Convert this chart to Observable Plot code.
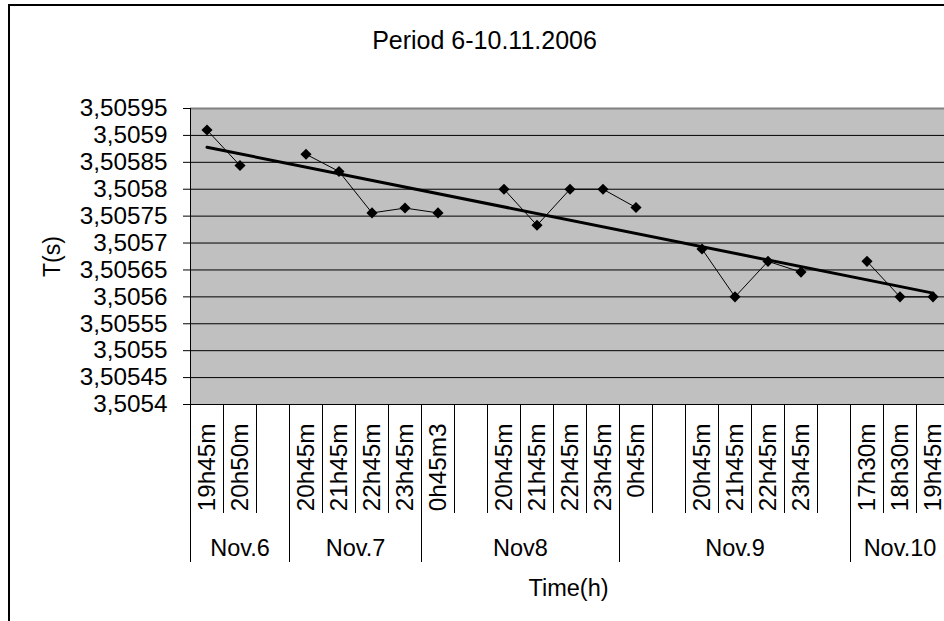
<!DOCTYPE html>
<html>
<head>
<meta charset="utf-8">
<script src="https://cdn.jsdelivr.net/npm/d3@7"></script>
<script src="https://cdn.jsdelivr.net/npm/@observablehq/plot@0.6"></script>
<style>
  html, body { margin: 0; padding: 0; background: #fff; overflow: hidden; }
  #wrap { position: relative; width: 944px; height: 621px; overflow: hidden; }
  #border { position: absolute; left: 8px; top: 4px; width: 1200px; height: 1200px;
            border-left: 2px solid #000; border-top: 2px solid #000; pointer-events: none; }
</style>
</head>
<body>
<div id="wrap"><div id="border"></div></div>
<script>
// ---- data ----
const days = ["Nov.6","Nov.6","Nov.6",
              "Nov.7","Nov.7","Nov.7","Nov.7",
              "Nov8","Nov8","Nov8","Nov8","Nov8","Nov8",
              "Nov.9","Nov.9","Nov.9","Nov.9","Nov.9","Nov.9","Nov.9",
              "Nov.10","Nov.10","Nov.10"];
const times = ["19h45m","20h50m","",
               "20h45m","21h45m","22h45m","23h45m",
               "0h45m3","","20h45m","21h45m","22h45m","23h45m",
               "0h45m","","20h45m","21h45m","22h45m","23h45m","",
               "17h30m","18h30m","19h45m"];
const periods = [3.50591, 3.505844, null,
                 3.505865, 3.505833, 3.505756, 3.505765,
                 3.505756, null, 3.5058, 3.505733, 3.5058, 3.5058,
                 3.505766, null, 3.505689, 3.5056, 3.505666, 3.505646, null,
                 3.505666, 3.5056, 3.5056];
const yTicks = [3.5054, 3.50545, 3.5055, 3.50555, 3.5056, 3.50565, 3.5057,
                3.50575, 3.5058, 3.50585, 3.5059, 3.50595];
const yTickLabels = ["3,5054","3,50545","3,5055","3,50555","3,5056","3,50565","3,5057",
                     "3,50575","3,5058","3,50585","3,5059","3,50595"];
const title = "Period 6-10.11.2006";
const xTitle = "Time(h)";
const yTitle = "T(s)";

// ---- tables built from the arrays ----
const rows = times.map((t, i) => ({i, time: t, day: days[i], v: periods[i]}));
const pts = rows.filter(d => d.v != null);
const slotEdges = d3.range(times.length + 1).map(i => i - 0.5);
const groups = [];
days.forEach((d, i) => {
  if (!groups.length || groups[groups.length - 1].day !== d) groups.push({day: d, first: i, last: i});
  else groups[groups.length - 1].last = i;
});
groups.forEach(g => { g.center = (g.first + g.last) / 2; g.start = g.first - 0.5; });

const font = "'Liberation Sans', Arial, sans-serif";

const chart = Plot.plot({
  width: 944,
  height: 621,
  marginLeft: 190,
  marginTop: 108,
  marginBottom: 217,
  marginRight: 0,
  style: {fontFamily: font, fontSize: "24px", color: "#000", background: "transparent", overflow: "visible"},
  x: {type: "linear", domain: [-0.5, times.length - 0.5], range: [190, 949], axis: null},
  y: {domain: [yTicks[0], yTicks[yTicks.length - 1]], axis: null},
  marks: [
    Plot.frame({fill: "#c0c0c0", stroke: "none"}),
    Plot.ruleY(yTicks, {stroke: "#000", strokeWidth: 1}),
    Plot.ruleY([yTicks[yTicks.length - 1]], {stroke: "#808080", strokeWidth: 2}),
    Plot.axisY({ticks: yTicks, tickSize: 7, tickPadding: 16, fontSize: 24.3,
                tickFormat: d => yTickLabels[yTicks.indexOf(d)], label: null}),
    // left axis line
    Plot.ruleX([groups[0].start], {stroke: "#000", strokeWidth: 1}),
    // category separators below the axis
    Plot.ruleX(slotEdges, {stroke: "#000", strokeWidth: 1, insetTop: 296, insetBottom: -109}),
    // group separators
    Plot.ruleX(groups, {x: "start", stroke: "#000", strokeWidth: 1, insetTop: 296, insetBottom: -158}),
    // time labels
    Plot.text(rows, {x: "i", text: "time", frameAnchor: "bottom", dy: 19, rotate: -90,
                     textAnchor: "end", lineAnchor: "middle", fontSize: 24.3, fill: "#000"}),
    // day labels
    Plot.text(groups, {x: "center", text: "day", frameAnchor: "bottom", dy: 151,
                       lineAnchor: "bottom", textAnchor: "middle", fontSize: 23.5, fill: "#000"}),
    // series
    Plot.line(rows, {x: "i", y: "v", stroke: "#000", strokeWidth: 1}),
    Plot.linearRegressionY(pts, {x: "i", y: "v", ci: 0, stroke: "#000", strokeWidth: 3}),
    Plot.dot(pts, {x: "i", y: "v", symbol: "diamond2", r: 5, fill: "#000", stroke: "none"}),
    // titles
    Plot.text([title], {frameAnchor: "top-left", dx: 294, dy: -60, lineAnchor: "bottom",
                        textAnchor: "middle", fontSize: 25, fill: "#000"}),
    Plot.text([xTitle], {frameAnchor: "bottom-left", dx: 378, dy: 191, lineAnchor: "bottom",
                         textAnchor: "middle", fontSize: 23.5, fill: "#000"}),
    Plot.text([yTitle], {frameAnchor: "left", dx: -138, rotate: -90, lineAnchor: "middle",
                         textAnchor: "middle", fontSize: 23, fill: "#000"})
  ]
});
document.getElementById("wrap").insertBefore(chart, document.getElementById("border"));
</script>
</body>
</html>
